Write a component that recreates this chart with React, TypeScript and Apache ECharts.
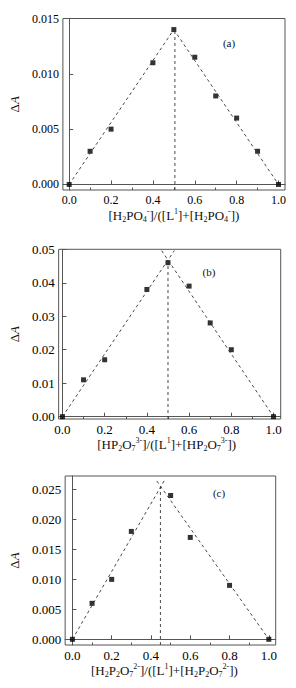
import React, { useEffect, useRef } from 'react';
import * as echarts from 'echarts';

const FONT = 'Liberation Serif, Times New Roman, serif';

const xMajor = [0, 0.2, 0.4, 0.6, 0.8, 1.0];
const xMinor = [0.1, 0.3, 0.5, 0.7, 0.9];

// Panel (a)
const xA = [0, 0.1, 0.2, 0.4, 0.5, 0.6, 0.7, 0.8, 0.9, 1.0];
const yA = [0, 0.003, 0.005, 0.011, 0.014, 0.0115, 0.008, 0.006, 0.003, 0];
const yTicksA = [0, 0.005, 0.01, 0.015];
const fitLeftA = [[0, 0], [0.5, 0.014]];
const fitRightA = [[0.5, 0.014], [1.0, 0]];
const vertA = [[0.505, -0.0005], [0.505, 0.014]];

// Panel (b)
const xB = [0, 0.1, 0.2, 0.4, 0.5, 0.6, 0.7, 0.8, 1.0];
const yB = [0, 0.011, 0.017, 0.038, 0.046, 0.039, 0.028, 0.02, 0];
const yTicksB = [0, 0.01, 0.02, 0.03, 0.04, 0.05];
const fitLeftB = [[0, 0], [0.53, 0.0496]];
const fitRightB = [[0.47, 0.0496], [1.0, 0]];
const vertB = [[0.5, -0.0007], [0.5, 0.0468]];

// Panel (c)
const xC = [0, 0.1, 0.2, 0.3, 0.5, 0.6, 0.8, 1.0];
const yC = [0, 0.006, 0.01, 0.018, 0.024, 0.017, 0.009, 0];
const yTicksC = [0, 0.005, 0.01, 0.015, 0.02, 0.025];
const fitLeftC = [[0, 0], [0.47, 0.0266]];
const fitRightC = [[0.43, 0.0264], [1.0, 0]];
const vertC = [[0.448, -0.00095], [0.448, 0.0255]];

const rich = {
  b: { fontFamily: FONT, fontSize: 13, color: '#111', lineHeight: 16 },
  sub: { fontFamily: FONT, fontSize: 8, color: '#111', lineHeight: 8, verticalAlign: 'bottom' },
  sup: { fontFamily: FONT, fontSize: 8, color: '#111', lineHeight: 8, verticalAlign: 'top' },
};

const nameA = '{b|[H}{sub|2}{b|PO}{sub|4}{sup|-}{b|]/([L}{sup|1}{b|]+[H}{sub|2}{b|PO}{sub|4}{sup|-}{b|])}';
const nameB = '{b|[HP}{sub|2}{b|O}{sub|7}{sup|3-}{b|]/([L}{sup|1}{b|]+[HP}{sub|2}{b|O}{sub|7}{sup|3-}{b|])}';
const nameC = '{b|[H}{sub|2}{b|P}{sub|2}{b|O}{sub|7}{sup|2-}{b|]/([L}{sup|1}{b|]+[H}{sub|2}{b|P}{sub|2}{b|O}{sub|7}{sup|2-}{b|])}';

const zip = (xs: number[], ys: number[]) => xs.map((x, i) => [x, ys[i]]);

export default function App() {
  const ref = useRef<HTMLDivElement>(null);
  useEffect(() => {
    if (!ref.current) return;
    const chart = echarts.init(ref.current, null, { renderer: 'svg' });

    const axisColor = '#555';
    const grids = [
      { left: 53.5, top: 18.5, width: 231.5, height: 171.5 },
      { left: 51, top: 249.3, width: 229.7, height: 169.7 },
      { left: 63.3, top: 476, width: 212.4, height: 169 },
    ].map((g) => ({ ...g, show: true, borderColor: axisColor, borderWidth: 1, backgroundColor: 'transparent' }));

    const xRanges = [[-0.03, 1.031], [-0.018, 1.034], [-0.037, 1.035]];
    const yRanges = [[-0.0005, 0.015], [-0.0007, 0.05], [-0.00095, 0.02725]];
    const yTicks = [yTicksA, yTicksB, yTicksC];
    const yDigits = [3, 2, 3];
    const names = [nameA, nameB, nameC];
    const fontSizes = [12, 13, 13];
    const yNameGaps = [36, 27, 37];
    const xNamePad = [[0, 0, 0, 0], [0, 6, 0, 0], [0, 12, 0, 0]];

    const xAxis: any[] = [];
    const yAxis: any[] = [];
    for (let i = 0; i < 3; i++) {
      xAxis.push({
        type: 'value', gridIndex: i, min: xRanges[i][0], max: xRanges[i][1],
        axisLine: { show: true, lineStyle: { color: axisColor } },
        axisTick: { show: true, inside: true, length: 4, customValues: xMajor, lineStyle: { color: axisColor } },
        axisLabel: {
          show: true, customValues: xMajor, margin: 4, color: '#000', fontFamily: FONT, fontSize: fontSizes[i],
          formatter: (v: number) => v.toFixed(1),
        },
        splitLine: { show: false },
        name: names[i], nameLocation: 'middle', nameGap: 17,
        nameTextStyle: { rich, padding: xNamePad[i] },
      });
      xAxis.push({
        type: 'value', gridIndex: i, min: xRanges[i][0], max: xRanges[i][1], position: 'bottom',
        axisLine: { show: false },
        axisTick: { show: true, inside: true, length: 2.5, customValues: xMinor, lineStyle: { color: axisColor } },
        axisLabel: { show: false },
        splitLine: { show: false },
      });
      yAxis.push({
        type: 'value', gridIndex: i, min: yRanges[i][0], max: yRanges[i][1],
        axisLine: { show: true, lineStyle: { color: axisColor } },
        axisTick: { show: true, inside: true, length: 4, customValues: yTicks[i], lineStyle: { color: axisColor } },
        axisLabel: {
          show: true, customValues: yTicks[i], margin: 4, color: '#000', fontFamily: FONT, fontSize: fontSizes[i],
          formatter: (v: number) => v.toFixed(yDigits[i]),
        },
        splitLine: { show: false },
        name: '{d|Δ}{a|A}', nameLocation: 'middle', nameGap: yNameGaps[i], nameRotate: 90,
        nameTextStyle: {
          rich: {
            d: { fontFamily: FONT, fontSize: 13, color: '#111' },
            a: { fontFamily: FONT, fontSize: 13, color: '#111', fontStyle: 'italic' },
          },
        },
      });
    }

    const pts = [zip(xA, yA), zip(xB, yB), zip(xC, yC)];
    const fits = [
      [fitLeftA, fitRightA, vertA],
      [fitLeftB, fitRightB, vertB],
      [fitLeftC, fitRightC, vertC],
    ];
    const series: any[] = [];
    for (let i = 0; i < 3; i++) {
      fits[i].forEach((d) => {
        series.push({
          type: 'line', xAxisIndex: i * 2, yAxisIndex: i, data: d, symbol: 'none', silent: true,
          lineStyle: { color: '#333', width: 0.9, type: [3, 3] },
        });
      });
      series.push({
        type: 'scatter', xAxisIndex: i * 2, yAxisIndex: i, data: pts[i], symbol: 'rect', symbolSize: 5,
        itemStyle: { color: '#000' },
      });
    }

    chart.setOption({
      animation: false,
      backgroundColor: '#fff',
      grid: grids,
      xAxis,
      yAxis,
      series,
      graphic: [
        { type: 'text', x: 229, y: 43, style: { text: '(a)', fontFamily: FONT, fontSize: 11, fill: '#111', align: 'center', verticalAlign: 'middle' } },
        { type: 'text', x: 209, y: 272, style: { text: '(b)', fontFamily: FONT, fontSize: 11, fill: '#111', align: 'center', verticalAlign: 'middle' } },
        { type: 'text', x: 219, y: 493, style: { text: '(c)', fontFamily: FONT, fontSize: 11, fill: '#111', align: 'center', verticalAlign: 'middle' } },
      ],
    });
    return () => chart.dispose();
  }, []);
  return <div ref={ref} style={{ position: 'fixed', left: 0, top: 0, width: 296, height: 688 }} />;
}
